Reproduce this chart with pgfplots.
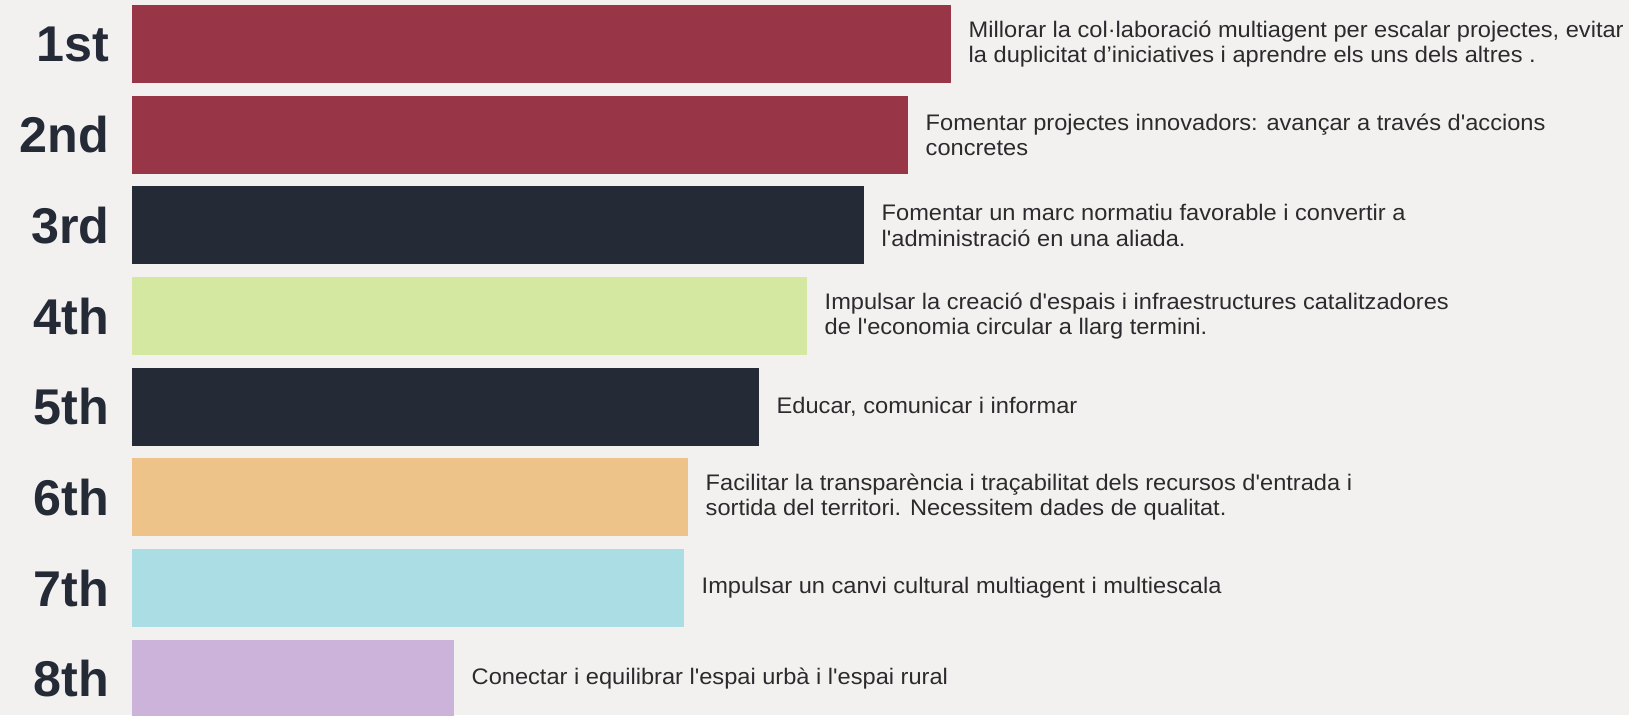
\documentclass[border=0pt]{standalone}
\usepackage{fontspec}
\setmainfont{Liberation Sans}
\newfontfamily\descfont[FakeStretch=1.05]{Liberation Sans}
\usepackage{pgfplots}
\pgfplotsset{compat=1.18}
\definecolor{bg}{HTML}{F2F1F0}
\definecolor{cred}{HTML}{983546}
\definecolor{cdark}{HTML}{252A37}
\definecolor{cgreen}{HTML}{D4E8A2}
\definecolor{corange}{HTML}{EDC38A}
\definecolor{ccyan}{HTML}{ABDDE4}
\definecolor{clav}{HTML}{CBB3DA}
\definecolor{ctext}{HTML}{2B2B2E}
\begin{document}
\begin{tikzpicture}
\begin{axis}[
  scale only axis,
  width=16.29cm, height=7.15cm,
  xmin=-132, xmax=1497,
  ymin=0.5147, ymax=8.4006,
  y dir=reverse,
  xbar, bar width=0.86, bar shift=0pt,
  axis line style={draw=none},
  ticks=none, xticklabels={}, yticklabels={},
  axis background/.style={fill=bg},
  every axis plot/.append style={draw=none},
]
\addplot[fill=cred] coordinates {(819,1)};
\addplot[fill=cred] coordinates {(776,2)};
\addplot[fill=cdark] coordinates {(732,3)};
\addplot[fill=cgreen] coordinates {(675,4)};
\addplot[fill=cdark] coordinates {(627,5)};
\addplot[fill=corange] coordinates {(556,6)};
\addplot[fill=ccyan] coordinates {(552,7)};
\addplot[fill=clav] coordinates {(322,8)};

\tikzset{lab/.style={anchor=east, inner sep=0pt, text=cdark, font=\fontsize{14.3pt}{14.3pt}\selectfont\bfseries},
  desc/.style={anchor=west, inner sep=0pt, xshift=1.7mm, align=left, text=ctext, font=\descfont\fontsize{6.4pt}{7.2pt}\selectfont}}
\node[lab] at (axis cs:-22,1) {1st};
\node[lab] at (axis cs:-22,2) {2nd};
\node[lab] at (axis cs:-22,3) {3rd};
\node[lab] at (axis cs:-22,4) {4th};
\node[lab] at (axis cs:-22,5) {5th};
\node[lab] at (axis cs:-22,6) {6th};
\node[lab] at (axis cs:-22,7) {7th};
\node[lab] at (axis cs:-22,8) {8th};

\node[desc] at (axis cs:819,1) {Millorar la col·laboració multiagent per escalar projectes, evitar\\la duplicitat d’iniciatives i aprendre els uns dels altres .};
\node[desc] at (axis cs:776,2) {Fomentar projectes innovadors: avançar a través d'accions\\concretes};
\node[desc] at (axis cs:732,3) {Fomentar un marc normatiu favorable i convertir a\\l'administració en una aliada.};
\node[desc] at (axis cs:675,4) {Impulsar la creació d'espais i infraestructures catalitzadores\\de l'economia circular a llarg termini.};
\node[desc] at (axis cs:627,5) {Educar, comunicar i informar};
\node[desc] at (axis cs:556,6) {Facilitar la transparència i traçabilitat dels recursos d'entrada i\\sortida del territori. Necessitem dades de qualitat.};
\node[desc] at (axis cs:552,7) {Impulsar un canvi cultural multiagent i multiescala};
\node[desc] at (axis cs:322,8) {Conectar i equilibrar l'espai urbà i l'espai rural};
\end{axis}
\end{tikzpicture}
\end{document}
